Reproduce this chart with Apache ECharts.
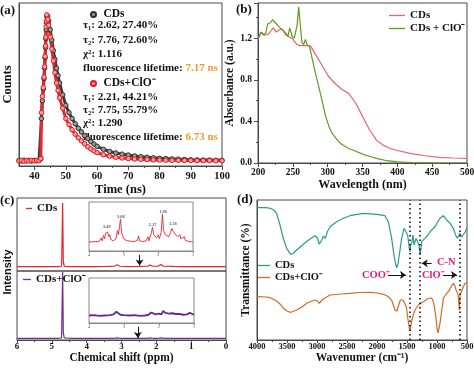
<!DOCTYPE html>
<html><head><meta charset="utf-8">
<script src="https://cdn.jsdelivr.net/npm/echarts@6/dist/echarts.min.js"></script>
<style>html,body{margin:0;padding:0;background:#fff}#c{width:474px;height:370px}</style>
</head><body><div id="c"></div>
<script>
// ---------- (a) fluorescence decay ----------
const timeA = [35,35.8,36.6,37.4,38.2,39,39.8,40.6,41.4,42,42.2,42.5,42.8,43,43.2,43.35,43.5,43.6,43.7,43.8,43.9,44.2,44.5,45,45.5,46,46.5,47,47.5,48,49,50,51,52,53,54,55,56,57,58,59,60,62,64,66,68,70,72,74,76,78,80,82,84,86,88,90,92,94,96,98,100];
const countsCDs = [0.017,0.014,0.019,0.015,0.018,0.014,0.018,0.015,0.018,0.03,0.30,0.42,0.50,0.57,0.64,0.71,0.78,0.84,0.90,0.95,0.99,0.99,0.96,0.90,0.83,0.76,0.70,0.64,0.59,0.54,0.46,0.39,0.34,0.30,0.265,0.235,0.21,0.185,0.165,0.145,0.128,0.113,0.093,0.078,0.068,0.06,0.054,0.048,0.043,0.039,0.035,0.032,0.03,0.028,0.026,0.024,0.022,0.021,0.02,0.02,0.019,0.018];
const countsClO = [0.015,0.018,0.013,0.017,0.014,0.018,0.015,0.017,0.016,0.03,0.34,0.45,0.51,0.58,0.65,0.72,0.79,0.85,0.92,0.96,1.0,0.97,0.93,0.85,0.77,0.69,0.61,0.54,0.49,0.44,0.37,0.30,0.26,0.225,0.195,0.17,0.15,0.13,0.11,0.095,0.082,0.07,0.056,0.046,0.039,0.034,0.03,0.027,0.025,0.023,0.021,0.02,0.019,0.018,0.018,0.017,0.017,0.016,0.016,0.016,0.015,0.015];
const ticksA = [40,50,60,70,80,90,100];
const minorTicksA = [45,55,65,75,85,95];
const fitCDs = ['τ₁: 2.62, 27.40%','τ₂: 7.76, 72.60%','χ²: 1.116'];
const lifeCDs = '7.17 ns';
const fitClO = ['τ₁: 2.21, 44.21%','τ₂: 7.75, 55.79%','χ²: 1.290'];
const lifeClO = '6.73 ns';

// ---------- (b) UV-vis ----------
const wlCDs = [200,205,210,215,222,226,230,235,239,245,249,256,260,266,273,276,282,291,301,310,320,330,340,350,360,370,380,390,400,420,440,460,480,500];
const absCDs = [1.19,1.26,1.23,1.24,1.30,1.26,1.28,1.29,1.24,1.21,1.20,1.14,1.13,1.13,1.13,1.12,1.05,0.95,0.835,0.77,0.71,0.67,0.58,0.45,0.32,0.22,0.17,0.14,0.12,0.09,0.07,0.055,0.048,0.045];
const wlClO = [200,204,208,211,214,218,221,225,229,233,237,240,243,245.5,249,252,256,258.4,260.8,263,265.6,268,270.4,274,277.6,282.3,287,292,297,302,307,314,320,330,338,350,362,370,385,400,420,450,500];
const absClO = [1.19,1.26,1.23,1.25,1.34,1.35,1.38,1.35,1.32,1.29,1.27,1.25,1.22,1.30,1.22,1.20,1.32,1.50,1.32,1.16,1.14,1.19,1.14,1.12,1.01,0.87,0.74,0.60,0.45,0.35,0.28,0.22,0.18,0.14,0.12,0.085,0.06,0.045,0.022,0.01,0.005,0.002,0.0];

// ---------- (c) 1H NMR ----------
const ppmMain = [6,5.5,5.0,4.8,4.72,4.69,4.67,4.64,4.5,4.2,3.8,3.4,3.2,3.13,3.05,2.8,2.5,2.25,2.18,2.1,1.95,1.87,1.8,1.5,1.2,0.8,0.4,0];
const nmrCDs = [0.06,0.06,0.06,0.06,0.065,0.93,0.12,0.065,0.06,0.06,0.06,0.062,0.065,0.085,0.065,0.06,0.062,0.065,0.08,0.065,0.065,0.09,0.065,0.062,0.06,0.06,0.06,0.06];
const nmrClO = [0.025,0.025,0.025,0.025,0.03,0.985,0.1,0.03,0.025,0.025,0.025,0.025,0.025,0.03,0.025,0.025,0.025,0.025,0.03,0.025,0.025,0.03,0.025,0.025,0.025,0.025,0.025,0.025];
const ppmInset1 = [4.0,3.8,3.7,3.65,3.62,3.58,3.55,3.52,3.49,3.46,3.43,3.40,3.37,3.3,3.22,3.18,3.15,3.12,3.09,3.06,3.0,2.9,2.8,2.7,2.6,2.57,2.54,2.45,2.35,2.3,2.27,2.2,2.17,2.13,2.05,2.0,1.97,1.92,1.88,1.85,1.8,1.75,1.7,1.65,1.61,1.57,1.52,1.47,1.44,1.38,1.35,1.3,1.25,1.22,1.15,1.12,1.08,1.0];
const insetCDs = [0.02,0.03,0.04,0.12,0.05,0.18,0.1,0.24,0.2,0.26,0.15,0.2,0.08,0.05,0.1,0.3,0.2,0.4,0.58,0.25,0.1,0.05,0.04,0.03,0.06,0.17,0.05,0.03,0.05,0.15,0.05,0.25,0.38,0.2,0.12,0.2,0.1,0.25,0.70,0.3,0.2,0.22,0.15,0.25,0.35,0.28,0.22,0.25,0.15,0.2,0.1,0.12,0.15,0.06,0.04,0.08,0.03,0.02];
const ppmInset2 = [4.0,3.85,3.7,3.55,3.4,3.3,3.22,3.17,3.1,3.0,2.85,2.7,2.55,2.4,2.3,2.22,2.17,2.1,2.0,1.93,1.88,1.82,1.72,1.62,1.52,1.42,1.3,1.2,1.12,1.08,1.0];
const insetClO = [0.0,0.01,-0.01,0.0,0.01,0.03,0.1,0.06,0.02,0.01,0.0,0.01,-0.01,0.0,0.02,0.08,0.04,0.03,0.05,0.03,0.12,0.07,0.05,0.06,0.04,0.04,0.02,0.03,0.07,0.02,0.02];
const peakPpm = [3.49,3.08,2.17,1.86,1.58];
const peakLabelY = [0.39,0.64,0.44,0.75,0.46];
const arrowC1 = [[2.48,0.22],[2.48,0.075]];
const arrowC2 = [[2.53,0.19],[2.53,0.03]];

// ---------- (d) FTIR ----------
const wnCDs = [4000,3850,3780,3720,3672,3617,3561,3506,3439,3400,3339,3228,3117,3033,2994,2961,2922,2890,2860,2830,2783,2672,2550,2450,2228,2006,1867,1811,1756,1717,1690,1672,1650,1628,1589,1550,1517,1489,1461,1450,1439,1417,1400,1383,1350,1322,1300,1283,1265,1256,1200,1150,1117,1033,990,950,894,870,839,783,728,690,661,640,617,590,561,530,500];
const trCDs = [132.3,132.5,131.7,130,126.7,115,101.7,91.7,85.7,86.5,90,95.7,101,104.3,102,95.7,100,104,101.7,108,113.3,118.3,122,124.3,126.7,125.7,124.3,118.3,101.7,85,76,72.3,76,85,101.7,111.7,113.3,105,91.7,88,95,98.3,105,95,101.7,100,95,85,92,98.3,101.7,105,108.3,113.3,118,121.7,124.3,123,120,116.7,111.7,105,101.7,104,106.7,103,104,108,112];
const wnClO = [4000,3850,3783,3672,3600,3561,3500,3450,3400,3339,3250,3172,3100,3033,2990,2961,2930,2894,2783,2600,2450,2300,2117,2000,1894,1830,1783,1750,1728,1700,1683,1665,1650,1639,1610,1589,1565,1533,1510,1494,1470,1455,1448,1440,1425,1411,1390,1367,1311,1228,1150,1117,1090,1061,1040,1017,1000,985,978,970,955,939,920,900,894,870,839,800,783,760,728,700,683,665,650,640,632,628,622,615,594,570,533,515,500];
const trClO = [43.3,43,42.3,39,35,31.7,29,27.7,28.5,30,33,36.7,38.5,40,39,36.7,39,41,45,46,46.7,47.5,47.7,47,45.7,44,41.7,39,35,30,28,29,33,35,40,41.7,40,38.3,33,25,15,9,8.3,12,18,21.7,26,30,35,38.3,41.5,43.3,42,38.3,32,21.7,12,7,6.7,9,15,21.7,30,38,41.7,44,46.7,49,51.7,52,56.7,54,50,48,46,40,34,30,32,45,48.3,52,56.7,58,57];
const bandLines = [1460,1288,628];
const arrowsD = [[[1090,76.7],[1255,76.7]],[[1817,65],[1517,65]],[[900,65],[667,65]]];

const NAMES = {aCDs:'CDs', aClO:'CDs+ClO⁻', bCDs:'CDs', bClO:'CDs + ClO⁻', cCDs:'CDs', cClO:'CDs+ClO⁻', dCDs:'CDs', dClO:'CDs+ClO⁻'};

// ---------- build ----------
const zip = (xs, ys) => xs.map((x, i) => [x, ys[i]]);
const SERIF = '"Liberation Serif","Times New Roman",serif';
const FR = '#4a4a4a';
const plain = (v) => String(v);
const nameStyle = (fs) => ({fontFamily: SERIF, fontWeight: 'bold', fontSize: fs, color: '#111'});
const lblStyle = (fs, m) => ({fontFamily: SERIF, fontWeight: 'bold', fontSize: fs, color: '#111', margin: m, formatter: plain});
const gridBase = {show: true, borderColor: FR, borderWidth: 1, containLabel: false, outerBoundsMode: 'none'};
const line = {onZero: false, lineStyle: {color: FR, width: 1}};
const tick = (len) => ({length: len, lineStyle: {color: FR}});
const minor = {show: true, splitNumber: 2, length: 2, lineStyle: {color: FR}};
const noSplit = {show: false};

const chart = echarts.init(document.getElementById('c'), null, {renderer: 'canvas'});

const FS_A = 11;
const textLine = (x, y, txt) => ({type: 'text', x: x, y: y, silent: true,
  style: {text: txt, fill: '#111', fontFamily: SERIF, fontWeight: 'bold', fontSize: FS_A, align: 'left', verticalAlign: 'middle'}});
const lifeLine = (x, y, val) => ({type: 'text', x: x, y: y, silent: true,
  style: {text: '{k|fluorescence lifetime: }{v|' + val + '}', fontFamily: SERIF, fontWeight: 'bold', fontSize: FS_A, align: 'left', verticalAlign: 'middle',
    rich: {k: {fill: '#111', fontFamily: SERIF, fontWeight: 'bold', fontSize: FS_A}, v: {fill: '#f39a2c', fontFamily: SERIF, fontWeight: 'bold', fontSize: FS_A}}}});
const panelLbl = (x, y, t) => ({type: 'text', x: x, y: y, silent: true,
  style: {text: t, fill: '#111', fontFamily: SERIF, fontWeight: 'bold', fontSize: 13, align: 'left', verticalAlign: 'middle'}});
const magenta = (x, y, t) => ({type: 'text', x: x, y: y, silent: true,
  style: {text: t, fill: '#e8187c', fontFamily: SERIF, fontWeight: 'bold', fontSize: 10.5, align: 'left', verticalAlign: 'middle'}});

const legendText = (fs) => ({fontFamily: SERIF, fontWeight: 'bold', fontSize: fs, color: '#111'});
const fmt = (n) => NAMES[n];
const lineIcon = 'rect';

const option = {
  animation: false,
  backgroundColor: '#fff',
  grid: [
    Object.assign({left: 19, top: 3, width: 203, height: 163}, gridBase),
    Object.assign({left: 258, top: 3, width: 209, height: 160}, gridBase),
    Object.assign({left: 17, top: 198, width: 209, height: 73}, gridBase),
    Object.assign({left: 17, top: 271, width: 209, height: 69}, gridBase),
    Object.assign({left: 89, top: 202, width: 104, height: 49}, gridBase, {borderColor: '#888'}),
    Object.assign({left: 89, top: 278, width: 105, height: 45}, gridBase, {borderColor: '#888'}),
    Object.assign({left: 257, top: 200, width: 210, height: 140}, gridBase)
  ],
  xAxis: [
    {type: 'value', gridIndex: 0, min: 35, max: 100, axisLine: line, splitLine: noSplit,
      axisTick: Object.assign({customValues: ticksA}, tick(4)),
      axisLabel: Object.assign({customValues: ticksA}, lblStyle(10.5, 5)),
      name: 'Time (ns)', nameLocation: 'middle', nameGap: 15, nameTextStyle: nameStyle(12.5)},
    {type: 'value', gridIndex: 0, min: 35, max: 100, position: 'bottom', axisLine: {show: false, onZero: false}, splitLine: noSplit,
      axisTick: Object.assign({customValues: minorTicksA}, tick(2)), axisLabel: {show: false}},
    {type: 'value', gridIndex: 1, min: 200, max: 500, interval: 50, axisLine: line, splitLine: noSplit,
      axisTick: tick(4), minorTick: minor, axisLabel: lblStyle(9.5, 5),
      name: 'Wavelength (nm)', nameLocation: 'middle', nameGap: 16, nameTextStyle: nameStyle(12)},
    {type: 'value', gridIndex: 2, min: 0, max: 6, inverse: true, show: false},
    {type: 'value', gridIndex: 3, min: 0, max: 6, interval: 1, inverse: true, axisLine: line, splitLine: noSplit,
      axisTick: tick(3), minorTick: minor, axisLabel: lblStyle(9, 2),
      name: 'Chemical shift (ppm)', nameLocation: 'middle', nameGap: 12, nameTextStyle: nameStyle(11.5)},
    {type: 'value', gridIndex: 4, min: 1, max: 4, interval: 1, inverse: true, axisLine: {onZero: false, lineStyle: {color: '#888'}}, splitLine: noSplit,
      axisTick: {length: 2, lineStyle: {color: '#888'}}, axisLabel: {fontSize: 4, color: '#444', margin: 2, fontFamily: SERIF}},
    {type: 'value', gridIndex: 5, min: 1, max: 4, interval: 1, inverse: true, axisLine: {onZero: false, lineStyle: {color: '#888'}}, splitLine: noSplit,
      axisTick: {length: 2, lineStyle: {color: '#888'}}, axisLabel: {fontSize: 4, color: '#444', margin: 2, fontFamily: SERIF}},
    {type: 'value', gridIndex: 6, min: 500, max: 4000, interval: 500, inverse: true, axisLine: line, splitLine: noSplit,
      axisTick: tick(3), minorTick: minor, axisLabel: lblStyle(8.5, 2),
      name: 'Wavenumer (cm⁻¹)', nameLocation: 'middle', nameGap: 12, nameTextStyle: nameStyle(11.5)}
  ],
  yAxis: [
    {type: 'value', gridIndex: 0, min: -0.02, max: 1.08, axisLine: line, axisTick: {show: false}, axisLabel: {show: false}, splitLine: noSplit,
      name: 'Counts', nameLocation: 'middle', nameGap: 5, nameTextStyle: nameStyle(12.5)},
    {type: 'value', gridIndex: 1, min: 0, max: 1.54, interval: 0.4, axisLine: line, splitLine: noSplit,
      axisTick: tick(4), minorTick: minor,
      axisLabel: Object.assign(lblStyle(9.5, 6), {formatter: (v) => v.toFixed(1), showMaxLabel: false}),
      name: 'Absorbance (a.u.)', nameLocation: 'middle', nameGap: 19, nameTextStyle: nameStyle(11.5)},
    {type: 'value', gridIndex: 2, min: 0, max: 1, show: false},
    {type: 'value', gridIndex: 3, min: 0, max: 1, show: false},
    {type: 'value', gridIndex: 4, min: -0.2, max: 1, show: false},
    {type: 'value', gridIndex: 5, min: -0.2, max: 1, show: false},
    {type: 'value', gridIndex: 6, min: 0, max: 140, axisLine: line, axisTick: {show: false}, axisLabel: {show: false}, splitLine: noSplit,
      name: 'Transmittance (%)', nameLocation: 'middle', nameGap: 5, nameTextStyle: nameStyle(11.5)}
  ],
  legend: [
    {data: ['aCDs'], left: 90, top: 8.5, icon: 'circle', itemWidth: 10, itemHeight: 5, padding: 0, selectedMode: false, formatter: fmt, textStyle: legendText(11.5)},
    {data: ['aClO'], left: 90, top: 77.5, icon: 'circle', itemWidth: 10, itemHeight: 5, padding: 0, selectedMode: false, formatter: fmt, textStyle: legendText(11.5)},
    {data: ['bCDs', 'bClO'], left: 389, top: 10, orient: 'vertical', icon: lineIcon, itemWidth: 16, itemHeight: 1.3, itemGap: 2, padding: 0, selectedMode: false, formatter: fmt, textStyle: legendText(11)},
    {data: ['cCDs'], left: 26, top: 203, icon: lineIcon, itemWidth: 6, itemHeight: 1.3, padding: 0, selectedMode: false, formatter: fmt, textStyle: legendText(11)},
    {data: ['cClO'], left: 23, top: 274, icon: lineIcon, itemWidth: 8, itemHeight: 1.3, padding: 0, selectedMode: false, formatter: fmt, textStyle: legendText(11)},
    {data: ['dCDs', 'dClO'], left: 258, top: 260, orient: 'vertical', icon: lineIcon, itemWidth: 12, itemHeight: 1.3, itemGap: 1, padding: 0, selectedMode: false, formatter: fmt, textStyle: legendText(10.5)}
  ],
  graphic: [
    panelLbl(0, 11, '(a)'), panelLbl(236, 10, '(b)'), panelLbl(0, 201, '(c)'), panelLbl(237, 200, '(d)'),
    textLine(83, 25, fitCDs[0]), textLine(83, 40, fitCDs[1]), textLine(83, 54, fitCDs[2]), lifeLine(83, 68, lifeCDs),
    textLine(83, 97, fitClO[0]), textLine(83, 110, fitClO[1]), textLine(83, 123, fitClO[2]), lifeLine(83, 137, lifeClO),
    {type: 'text', x: 7.5, y: 272, rotation: Math.PI / 2, silent: true,
      style: {text: 'Intensity', fill: '#111', fontFamily: '"Liberation Sans",Arial,sans-serif', fontWeight: 'bold', fontSize: 11, align: 'center', verticalAlign: 'middle'}},
    magenta(437, 262, 'C-N'), magenta(362, 275, 'COO⁻'), magenta(422, 275, 'ClO⁻')
  ],
  series: [
    {name: 'aCDs', type: 'line', xAxisIndex: 0, yAxisIndex: 0, data: zip(timeA, countsCDs), symbol: 'circle', symbolSize: 4.5, showSymbol: true, showAllSymbol: true,
      lineStyle: {color: '#3a3a3a', width: 3}, itemStyle: {color: '#9c9c9c', borderColor: '#2e2e2e', borderWidth: 1}, silent: true},
    {name: 'aClO', type: 'line', xAxisIndex: 0, yAxisIndex: 0, data: zip(timeA, countsClO), symbol: 'circle', symbolSize: 4.5, showSymbol: true, showAllSymbol: true,
      lineStyle: {color: '#e8262b', width: 3}, itemStyle: {color: '#f7a3a3', borderColor: '#e3161c', borderWidth: 1}, silent: true},
    {name: 'bCDs', type: 'line', xAxisIndex: 2, yAxisIndex: 1, data: zip(wlCDs, absCDs), symbol: 'none', lineStyle: {color: '#f0606c', width: 1.2}, itemStyle: {color: '#f0606c'}, silent: true},
    {name: 'bClO', type: 'line', xAxisIndex: 2, yAxisIndex: 1, data: zip(wlClO, absClO), symbol: 'none', lineStyle: {color: '#5f9b1f', width: 1.2}, itemStyle: {color: '#5f9b1f'}, silent: true},
    {name: 'cCDs', type: 'line', xAxisIndex: 3, yAxisIndex: 2, data: zip(ppmMain, nmrCDs), symbol: 'none', lineStyle: {color: '#e8262b', width: 1.2}, itemStyle: {color: '#e8262b'}, silent: true,
      markLine: {silent: true, symbol: ['none', 'arrow'], symbolSize: 6, label: {show: false}, lineStyle: {color: '#111', width: 1, type: 'solid'},
        data: [[{coord: arrowC1[0]}, {coord: arrowC1[1]}]]}},
    {name: 'cClO', type: 'line', xAxisIndex: 4, yAxisIndex: 3, data: zip(ppmMain, nmrClO), symbol: 'none', lineStyle: {color: '#7b2a8f', width: 1.2}, itemStyle: {color: '#7b2a8f'}, silent: true,
      markLine: {silent: true, symbol: ['none', 'arrow'], symbolSize: 6, label: {show: false}, lineStyle: {color: '#111', width: 1, type: 'solid'},
        data: [[{coord: arrowC2[0]}, {coord: arrowC2[1]}]]}},
    {name: 'inset1', type: 'line', xAxisIndex: 5, yAxisIndex: 4, data: zip(ppmInset1, insetCDs), symbol: 'none', lineStyle: {color: '#e8262b', width: 0.9}, silent: true},
    {name: 'peaks', type: 'scatter', xAxisIndex: 5, yAxisIndex: 4, data: zip(peakPpm, peakLabelY), symbolSize: 0, silent: true,
      label: {show: true, position: 'inside', formatter: (p) => p.value[0].toFixed(2), fontSize: 4.5, fontWeight: 'bold', color: '#333', fontFamily: SERIF}},
    {name: 'inset2', type: 'line', xAxisIndex: 6, yAxisIndex: 5, data: zip(ppmInset2, insetClO), symbol: 'none', lineStyle: {color: '#6a2a8a', width: 1.8}, silent: true},
    {name: 'dCDs', type: 'line', xAxisIndex: 7, yAxisIndex: 6, data: zip(wnCDs, trCDs), symbol: 'none', lineStyle: {color: '#2c9a8b', width: 1.2}, itemStyle: {color: '#2c9a8b'}, silent: true,
      markLine: {silent: true, symbol: ['none', 'none'], label: {show: false}, lineStyle: {color: '#111', width: 1.6, type: [1.5, 3]},
        data: bandLines.map((v) => ({xAxis: v}))}},
    {name: 'dClO', type: 'line', xAxisIndex: 7, yAxisIndex: 6, data: zip(wnClO, trClO), symbol: 'none', lineStyle: {color: '#d06a26', width: 1.2}, itemStyle: {color: '#d06a26'}, silent: true,
      markLine: {silent: true, symbol: ['none', 'arrow'], symbolSize: 6, label: {show: false}, lineStyle: {color: '#111', width: 1, type: 'solid'},
        data: arrowsD.map((a) => [{coord: a[0]}, {coord: a[1]}])}}
  ]
};
chart.setOption(option);
</script></body></html>
